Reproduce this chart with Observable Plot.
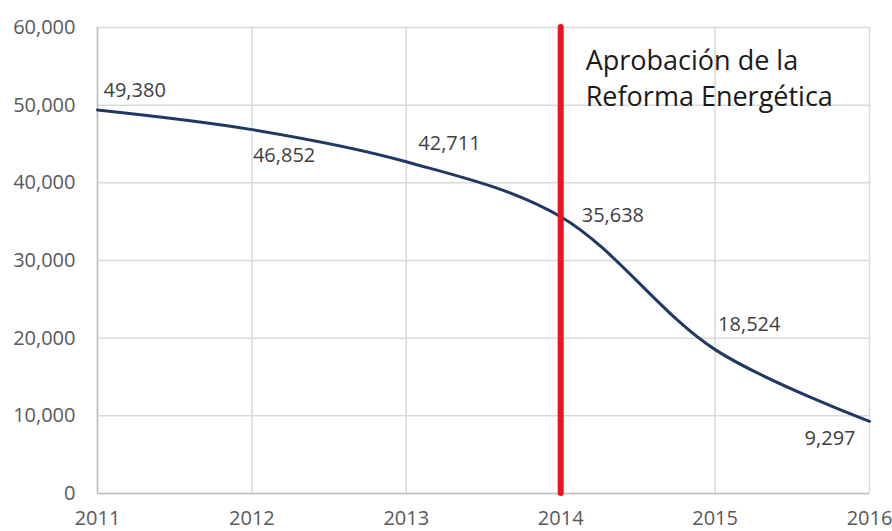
<!DOCTYPE html>
<html>
<head>
<meta charset="utf-8">
<script src="https://cdn.jsdelivr.net/npm/d3@7"></script>
<script src="https://cdn.jsdelivr.net/npm/@observablehq/plot@0.6"></script>
<style>
  html, body { margin: 0; padding: 0; background: #fff; }
  #chart svg { display: block; }
</style>
</head>
<body>
<div id="chart"></div>
<script>
const years = [2011, 2012, 2013, 2014, 2015, 2016];
const values = [49380, 46852, 42711, 35638, 18524, 9297];
const yTicks = [0, 10000, 20000, 30000, 40000, 50000, 60000];
const markerYear = 2014;
const annotationLines = ["Aprobación de la", "Reforma Energética"];

const data = years.map((year, i) => ({year, value: values[i]}));

// label placement hints (pixels) relative to each point
const labelPlacement = [
  {dx: 6, dy: -19, anchor: "start"},
  {dx: 1, dy: 26, anchor: "start"},
  {dx: 12, dy: -18, anchor: "start"},
  {dx: 21, dy: -1, anchor: "start"},
  {dx: 3, dy: -25, anchor: "start"},
  {dx: -14, dy: 17, anchor: "end"}
];

const font = "'Open Sans', 'Noto Sans', sans-serif";
const fmt = d3.format(",");

const labelMarks = data.map((d, i) => Plot.text([d], {
  x: "year", y: "value", text: r => fmt(r.value),
  dx: labelPlacement[i].dx, dy: labelPlacement[i].dy,
  textAnchor: labelPlacement[i].anchor,
  fill: "#404040", fontSize: 20
}));

const chart = Plot.plot({
  width: 892,
  height: 531,
  marginLeft: 97,
  marginRight: 23,
  marginTop: 27,
  marginBottom: 38,
  style: {fontFamily: font, background: "#fff"},
  x: {domain: [2011, 2016], ticks: years, tickFormat: d => String(d), label: null},
  y: {domain: [0, 60000], ticks: yTicks, tickFormat: fmt, label: null},
  marks: [
    Plot.ruleY(yTicks, {stroke: "#d9d9d9", strokeWidth: 1.5}),
    Plot.ruleX(years, {stroke: "#d9d9d9", strokeWidth: 1.5}),
    Plot.ruleX([2011], {stroke: "#bfbfbf", strokeWidth: 1.5}),
    Plot.ruleY([0], {stroke: "#bfbfbf", strokeWidth: 1.5}),
    Plot.axisX({ticks: years, tickFormat: d => String(d), tickSize: 0, tickPadding: 17, fontSize: 20, fill: "#595959"}),
    Plot.axisY({ticks: yTicks, tickFormat: fmt, tickSize: 0, tickPadding: 22, fontSize: 20, fill: "#595959"}),
    Plot.line(data, {x: "year", y: "value", curve: "catmull-rom", stroke: "#1f3864", strokeWidth: 3}),
    Plot.ruleX([markerYear], {y1: 0, y2: 60000, stroke: "#e8141f", strokeWidth: 6, strokeLinecap: "round"}),
    ...labelMarks,
    Plot.text([annotationLines.join("\n")], {
      x: markerYear, y: 60000, dx: 25, dy: 17, text: d => d,
      textAnchor: "start", lineAnchor: "top", lineHeight: 1.333,
      fontSize: 27, fill: "#1a1a1a"
    })
  ]
});
document.getElementById("chart").appendChild(chart);
</script>
</body>
</html>
